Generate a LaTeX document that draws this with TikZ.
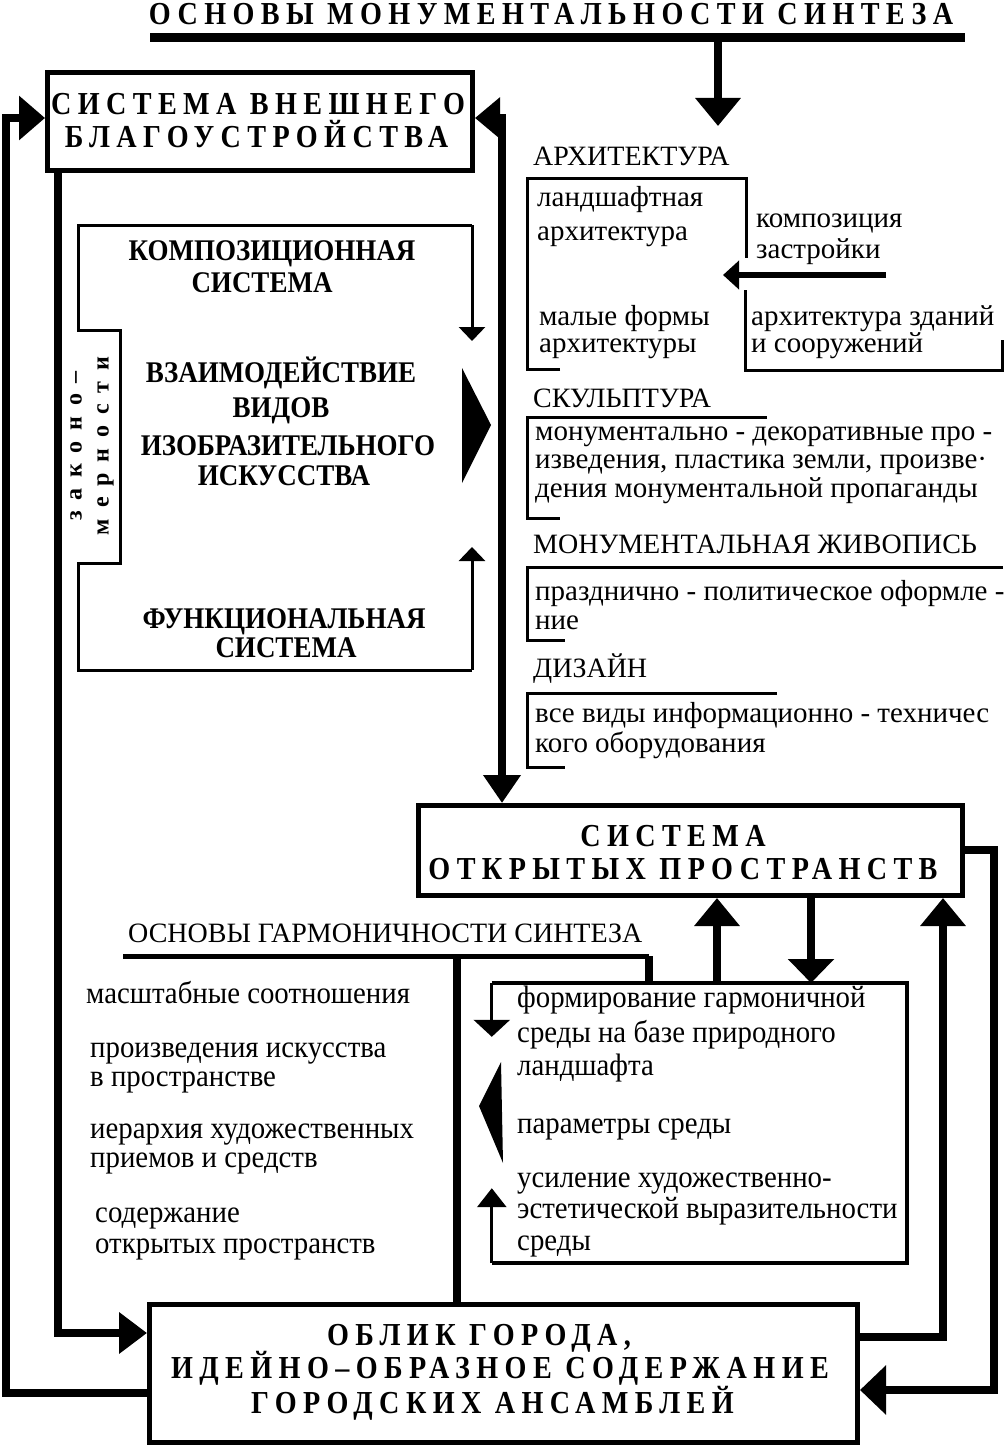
\documentclass[tikz,border=0pt]{standalone}
\usepackage{fontspec}
\setmainfont{Liberation Serif}
\newfontfamily\bigfont[FakeStretch=0.88,LetterSpace=20]{Liberation Serif}
\newfontfamily\innerfont[FakeStretch=0.9]{Liberation Serif}
\newfontfamily\vertfont[LetterSpace=45]{Liberation Serif}
\newfontfamily\colfont{Liberation Serif}
\newfontfamily\lowfont[FakeStretch=0.93]{Liberation Serif}
\usetikzlibrary{arrows.meta}
\begin{document}
\begin{tikzpicture}[x=1pt,y=-1pt,
  bigtxt/.style={inner sep=0pt,anchor=base,font=\bigfont\bfseries\fontsize{32}{36}\selectfont},
  innertxt/.style={inner sep=0pt,anchor=base,font=\innerfont\bfseries\fontsize{30}{33}\selectfont},
  coltxt/.style={inner sep=0pt,anchor=base west,text height=0.7em,text depth=0.2em,font=\colfont\fontsize{29}{32}\selectfont},
  colcap/.style={inner sep=0pt,anchor=base west,font=\colfont\fontsize{28}{32}\selectfont},
  lowtxt/.style={inner sep=0pt,anchor=base west,text height=0.7em,text depth=0.2em,font=\lowfont\fontsize{31}{34}\selectfont},
  lowonly/.style={text height=0.48em},
  nodesc/.style={text depth=0.02em},
  bigbox/.style={draw,line width=5pt,inner sep=0pt},
  thickline/.style={line width=8pt},
  thinline/.style={line width=3pt},
  bigtip/.style={-{Triangle[length=28pt,width=44pt]}},
  bothtip/.style={{Triangle[length=25pt,width=40pt]}-{Triangle[length=28pt,width=36pt]}},
  smalltip/.style={-{Triangle[length=14pt,width=26pt]}},
]
\useasboundingbox (0,0) rectangle (1005,1453);
\fill[white] (0,0) rectangle (1005,1453);

% ---------- title ----------
\node[bigtxt] (title) at (551,25) {ОСНОВЫ МОНУМЕНТАЛЬНОСТИ СИНТЕЗА};
\coordinate (ulL) at (150,38);
\coordinate (ulR) at (965,38);
\draw[line width=9pt] (ulL) -- (ulR);
\coordinate (ulA) at (718,38);
\coordinate (archTop) at (718,126);
\draw[thickline,bigtip] (ulA) -- (archTop);

% ---------- main boxes ----------
\node[bigbox,minimum width=425pt,minimum height=98pt] (box1) at (260,121.5) {};
\node[bigtxt] (b1a) at (258,115) {СИСТЕМА ВНЕШНЕГО};
\node[bigtxt] (b1b) at (256.5,147) {БЛАГОУСТРОЙСТВА};

\node[bigbox,minimum width=544pt,minimum height=90pt] (box2) at (690.5,850.5) {};
\node[bigtxt] (b2a) at (673,846) {СИСТЕМА};
\node[bigtxt] (b2b) at (683,879) {ОТКРЫТЫХ ПРОСТРАНСТВ};

\node[bigbox,minimum width=708pt,minimum height=138pt] (box3) at (503.5,1373.5) {};
\node[bigtxt] (b3a) at (479,1345) {ОБЛИК ГОРОДА,};
\node[bigtxt] (b3b) at (500,1378) {ИДЕЙНО–ОБРАЗНОЕ СОДЕРЖАНИЕ};
\node[bigtxt] (b3c) at (492.5,1413) {ГОРОДСКИХ АНСАМБЛЕЙ};

% ---------- big connectors ----------
\coordinate (lA) at (6,1393);
\coordinate (lB) at (6,118);
\draw[thickline,-{Triangle[length=26pt,width=43pt]}] (box3.west |- lA) -- (lA) -- (lB) -- (box1.west |- lB);

\coordinate (iA) at (58,1333);
\draw[thickline,-{Triangle[length=28pt,width=40pt]}] (box1.south -| iA) -- (iA) -- (box3.west |- iA);

\coordinate (rA) at (502,118);
\draw[thickline,bothtip] (box1.east |- rA) -- (rA) -- (box2.north -| rA);

\coordinate (rB) at (994,850);
\coordinate (rC) at (994,1390);
\draw[thickline,-{Triangle[length=26pt,width=48pt]}] (box2.east |- rB) -- (rB) -- (rC) -- (box3.east |- rC);

\coordinate (rD) at (943,1337);
\draw[thickline,bigtip] (box3.east |- rD) -- (rD) -- (box2.south -| rD);

% ---------- inner composition block ----------
\coordinate (cTR) at (472,225);
\coordinate (cTL) at (78,225);
\coordinate (cN1) at (78,330);
\coordinate (cN2) at (120,330);
\coordinate (cN3) at (120,563);
\coordinate (cN4) at (78,563);
\coordinate (cBL) at (78,670);
\coordinate (cBR) at (472,670);
\draw[thinline,line join=miter] (cTR) -- (cTL) -- (cN1) -- (cN2) -- (cN3) -- (cN4) -- (cBL) -- (cBR);
\coordinate (cDn) at (472,341);
\coordinate (cUp) at (472,547);
\draw[thinline,smalltip] (cTR) -- (cDn);
\draw[thinline,smalltip] (cBR) -- (cUp);
\fill (462,368) -- (491,425) -- (462,483) -- cycle;

\node[innertxt] (k1) at (272,260) {КОМПОЗИЦИОННАЯ};
\node[innertxt] (k2) at (262,292) {СИСТЕМА};
\node[innertxt] (v1) at (281,382) {ВЗАИМОДЕЙСТВИЕ};
\node[innertxt] (v2) at (281,417) {ВИДОВ};
\node[innertxt] (v3) at (288,455) {ИЗОБРАЗИТЕЛЬНОГО};
\node[innertxt] (v4) at (284,485) {ИСКУССТВА};
\node[innertxt] (f1) at (284,628) {ФУНКЦИОНАЛЬНАЯ};
\node[innertxt] (f2) at (286,657) {СИСТЕМА};
\node[inner sep=0pt,rotate=90,align=center,font=\vertfont\bfseries\fontsize{24}{27}\selectfont] (zak) at (92,446) {законо–\\мерности};

% ---------- right column ----------
\node[colcap] (arch) at (533,165) {АРХИТЕКТУРА};
\draw[thinline] (560,369) -- (527,369) -- (527,178) -- (746,178) -- (746,258);
\node[coltxt] (a1) at (537,206) {ландшафтная};
\node[coltxt] (a2) at (537,240) {архитектура};
\node[coltxt] (a3) at (539,325) {малые формы};
\node[coltxt] (a4) at (539,352) {архитектуры};
\node[coltxt] (s1) at (756,227) {композиция};
\node[coltxt] (s2) at (756,258) {застройки};
\coordinate (sA) at (886,275);
\coordinate (sB) at (723,275);
\draw[line width=6pt,-{Triangle[length=16pt,width=28pt]}] (sA) -- (sB);
\draw[thinline] (745,290) -- (745,370) -- (1002,370) -- (1002,340);
\node[coltxt] (z1) at (751,325) {архитектура зданий};
\node[coltxt] (z2) at (751,352) {и сооружений};

\node[colcap] (sculpt) at (533,407) {СКУЛЬПТУРА};
\draw[thinline] (767,417) -- (527,417) -- (527,518) -- (560,518);
\node[coltxt] (sc1) at (535,440) {монументально - декоративные про -};
\node[coltxt] (sc2) at (535,468) {изведения, пластика земли, произве·};
\node[coltxt] (sc3) at (535,497) {дения монументальной пропаганды};

\node[colcap] (paint) at (533,553) {МОНУМЕНТАЛЬНАЯ ЖИВОПИСЬ};
\draw[thinline] (1003,567) -- (527,567) -- (527,640) -- (565,640);
\node[coltxt,nodesc] (p1) at (535,600) {празднично - политическое оформле -};
\node[coltxt,lowonly] (p2) at (535,629) {ние};

\node[colcap] (design) at (533,677) {ДИЗАЙН};
\draw[thinline] (777,693) -- (527,693) -- (527,767) -- (565,767);
\node[coltxt] (d1) at (535,722) {все виды информационно - техничес};
\node[coltxt] (d2) at (535,752) {кого оборудования};

% ---------- harmony block ----------
\node[inner sep=0pt,anchor=base west,font=\colfont\fontsize{28}{32}\selectfont] (harmT) at (128,942) {ОСНОВЫ ГАРМОНИЧНОСТИ СИНТЕЗА};
\coordinate (gL) at (123,956);
\coordinate (gR) at (649,956);
\draw[line width=5pt] (gL) -- (gR);
\node[inner sep=0pt,minimum width=415pt,minimum height=280pt] (harm) at (699.5,1123) {};
\draw[line width=8pt] (gR) -- (harm.north -| gR);
\coordinate (gV) at (457,954);
\draw[thickline] (gV) -- (box3.north -| gV);

\draw[line width=4pt] (harm.north west) -- (harm.north east) -- (harm.south east) -- (harm.south west);
\draw[thinline,-{Triangle[length=17pt,width=36pt]}] (harm.north west) -- ++(0,54);
\draw[thinline,-{Triangle[length=19pt,width=29pt]}] (harm.south west) -- ++(0,-75);
\fill (501,1062) -- (479,1106) -- (503,1163) -- cycle;

\coordinate (hU) at (717,983);
\coordinate (hD) at (811,983);
\draw[thickline,bigtip] (hU) -- (box2.south -| hU);
\draw[thickline,-{Triangle[length=24pt,width=45pt]}] (box2.south -| hD) -- (hD);

\node[lowtxt] (h1) at (517,1007) {формирование гармоничной};
\node[lowtxt] (h2) at (517,1042) {среды на базе природного};
\node[lowtxt] (h3) at (517,1075) {ландшафта};
\node[lowtxt] (h4) at (517,1133) {параметры среды};
\node[lowtxt] (h5) at (517,1187) {усиление художественно-};
\node[lowtxt] (h6) at (517,1218) {эстетической выразительности};
\node[lowtxt] (h7) at (517,1250) {среды};

\node[lowtxt] (m1) at (86,1003) {масштабные соотношения};
\node[lowtxt,nodesc] (m2) at (90,1057) {произведения искусства};
\node[lowtxt,lowonly] (m3) at (90,1086) {в пространстве};
\node[lowtxt] (m4) at (90,1138) {иерархия художественных};
\node[lowtxt] (m5) at (90,1167) {приемов и средств};
\node[lowtxt] (m6) at (95,1222) {содержание};
\node[lowtxt] (m7) at (95,1253) {открытых пространств};
\end{tikzpicture}
\end{document}
